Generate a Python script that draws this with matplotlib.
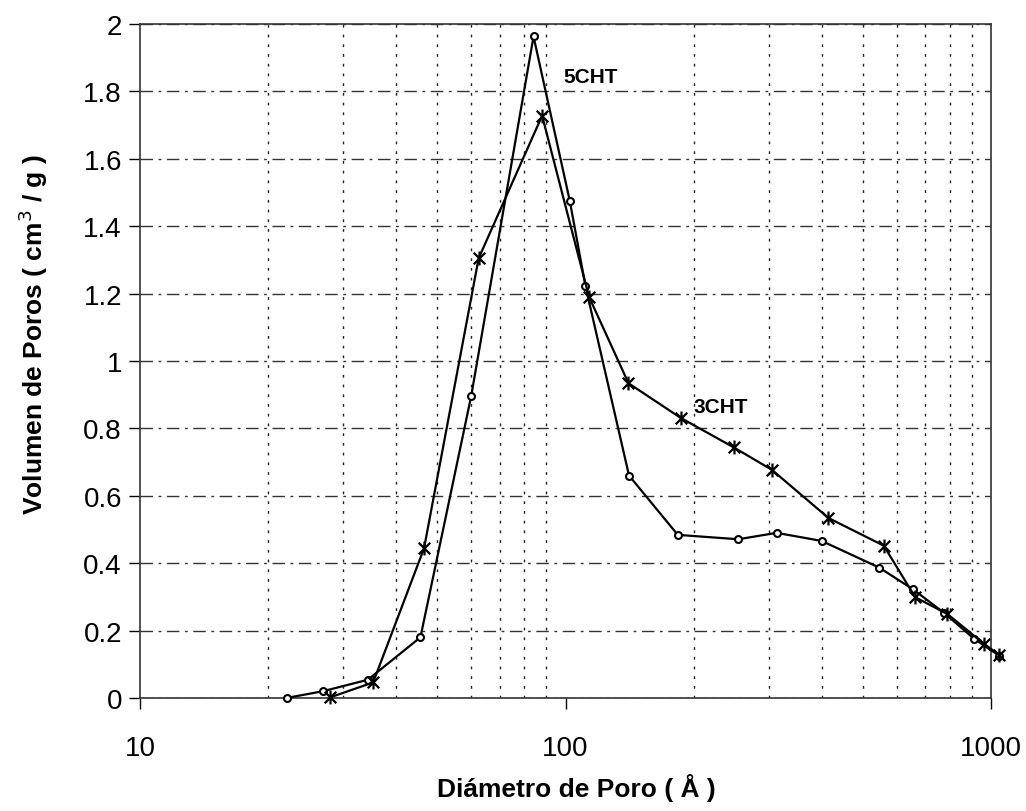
import matplotlib
matplotlib.use("Agg")
import matplotlib.pyplot as plt
from matplotlib.path import Path
from matplotlib.ticker import FixedLocator, NullFormatter

plt.rcParams['font.family'] = ['Liberation Sans', 'DejaVu Sans']

# Datos
d_5cht = [22.1, 26.9, 34.3, 45.6, 60.0, 84.1, 102.3, 111.4, 141.0, 183.6,
          254.7, 313.4, 400.0, 545.8, 654.8, 776.8, 913.7, 1045]
v_5cht = [0.0, 0.02, 0.054, 0.18, 0.895, 1.963, 1.476, 1.222, 0.66, 0.484,
          0.471, 0.49, 0.466, 0.387, 0.323, 0.252, 0.175, 0.126]

d_3cht = [28.0, 35.3, 46.5, 62.5, 88.1, 113.5, 140.6, 186.6, 248.2, 305.5,
          415.0, 559.6, 663.5, 790.0, 964.0, 1045]
v_3cht = [0.002, 0.046, 0.444, 1.305, 1.728, 1.191, 0.934, 0.831, 0.744,
          0.677, 0.534, 0.452, 0.299, 0.249, 0.160, 0.128]

y_ticks = [0, 0.2, 0.4, 0.6, 0.8, 1.0, 1.2, 1.4, 1.6, 1.8, 2.0]
y_labels = ['0', '0.2', '0.4', '0.6', '0.8', '1', '1.2', '1.4', '1.6', '1.8', '2']
x_ticks = [10, 100, 1000]
x_labels = ['10', '100', '1000']
x_minor = [20, 30, 40, 50, 60, 70, 80, 90, 200, 300, 400, 500, 600, 700, 800, 900]

# marcador tipo asterisco (X con barra vertical)
ast = Path([(-1, -1), (1, 1), (-1, 1), (1, -1), (0, -1.2), (0, 1.2)],
           [Path.MOVETO, Path.LINETO, Path.MOVETO, Path.LINETO, Path.MOVETO, Path.LINETO])

fig = plt.figure(figsize=(10.26, 8.12), dpi=100)
ax = fig.add_axes([0.1365, 0.1392, 0.8294, 0.8300])

ax.set_xscale('log')
ax.set_xlim(10, 1000)
ax.set_ylim(0, 2)

ax.plot(d_5cht, v_5cht, color='black', lw=1.6, marker='o', ms=5,
        mfc='white', mec='black', mew=1.5, clip_on=False, zorder=3)
ax.plot(d_3cht, v_3cht, color='black', lw=1.6, marker=ast, ms=10,
        mew=1.6, clip_on=False, zorder=3)

ax.text(99, 1.843, '5CHT', fontsize=15, fontweight='bold', va='center', ha='left')
ax.text(200, 0.8635, '3CHT', fontsize=15, fontweight='bold', va='center', ha='left')

ax.set_yticks(y_ticks)
ax.set_yticklabels(y_labels)
ax.xaxis.set_major_locator(FixedLocator(x_ticks))
ax.set_xticklabels(x_labels)
ax.xaxis.set_minor_locator(FixedLocator(x_minor))
ax.xaxis.set_minor_formatter(NullFormatter())

ax.tick_params(axis='y', which='major', labelsize=20, length=8, width=1, pad=5, direction='out')
ax.tick_params(axis='x', which='major', labelsize=20, length=8, width=1, pad=19, direction='out')
ax.tick_params(axis='x', which='minor', length=0)

ax.grid(True, axis='y', which='major', color='#333333', lw=1, linestyle=(0, (9, 4, 2, 4)))
ax.grid(True, axis='x', which='minor', color='#222222', lw=1, linestyle=(0, (2, 5)))

for s in ax.spines.values():
    s.set_color('#333333')
    s.set_linewidth(1.2)

ax.set_xlabel('Diámetro de Poro ( Å )', fontsize=19, fontweight='bold', va='center')
ax.set_ylabel('Volumen de Poros ( cm$^3$ / g )', fontsize=19, fontweight='bold',
              va='center', ha='center')
ax.xaxis.set_label_coords(0.513, -0.132)
ax.yaxis.set_label_coords(-0.126, 0.54)

fig.savefig('out.png', dpi=100)
